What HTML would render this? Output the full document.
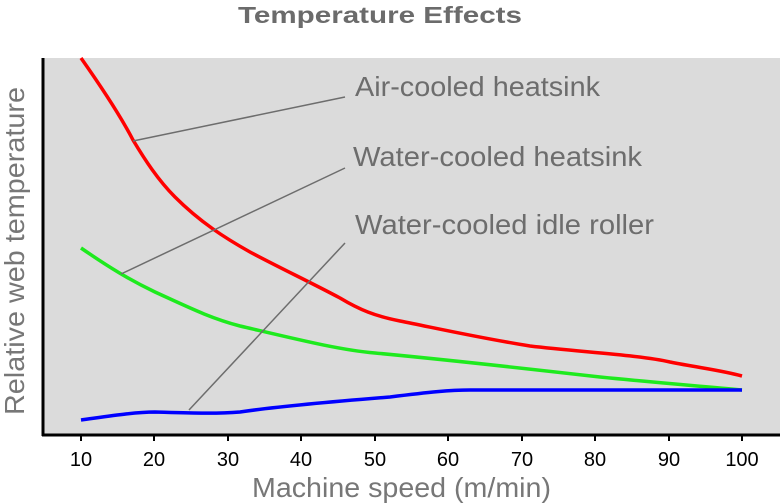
<!DOCTYPE html>
<html><head><style>body{margin:0;background:#fff}svg{display:block}</style></head><body>
<svg width="783" height="503" xmlns="http://www.w3.org/2000/svg" font-family="Liberation Sans, sans-serif">
<rect x="43" y="58" width="737" height="377" fill="#dbdbdb"/>
<text x="238" y="23" textLength="284" lengthAdjust="spacingAndGlyphs" font-size="23" font-weight="bold" fill="#6b6b6b">Temperature Effects</text>
<line x1="43" y1="58" x2="43" y2="436" stroke="#000" stroke-width="3"/>
<line x1="42" y1="435" x2="780" y2="435" stroke="#000" stroke-width="3"/>
<g stroke="#000" stroke-width="2">
<line x1="81" y1="435" x2="81" y2="441"/><line x1="154" y1="435" x2="154" y2="441"/><line x1="228" y1="435" x2="228" y2="441"/><line x1="301" y1="435" x2="301" y2="441"/><line x1="375" y1="435" x2="375" y2="441"/><line x1="448" y1="435" x2="448" y2="441"/><line x1="522" y1="435" x2="522" y2="441"/><line x1="595" y1="435" x2="595" y2="441"/><line x1="669" y1="435" x2="669" y2="441"/><line x1="742" y1="435" x2="742" y2="441"/></g>
<g font-size="20" text-anchor="middle" fill="#000">
<text x="81" y="466">10</text><text x="154" y="466">20</text><text x="228" y="466">30</text><text x="301" y="466">40</text><text x="375" y="466">50</text><text x="448" y="466">60</text><text x="522" y="466">70</text><text x="595" y="466">80</text><text x="669" y="466">90</text><text x="742" y="466">100</text></g>
<text x="252" y="497" textLength="299" lengthAdjust="spacingAndGlyphs" font-size="28" fill="#777">Machine speed (m/min)</text>
<text transform="translate(24,415) rotate(-90)" textLength="328" lengthAdjust="spacingAndGlyphs" font-size="28" fill="#777">Relative web temperature</text>
<g fill="none" stroke-width="3.5" stroke-linejoin="round">
<path stroke="#f00" d="M81,58 C100,85 120,115 133,140 C145,160 158,180 175,197 C200,222 225,238 250,252 C280,268 310,282 340,298 C360,310 375,316 400,321 C440,329 480,338 530,346 C580,352 640,355 670,362 C700,368 720,370 742,376"/>
<path stroke="#1eea1e" d="M81,248 C110,268 130,280 155,292 C190,308 210,318 240,326 C300,340 340,350 375,353 C460,361 530,369 600,377 C660,383 700,386 742,390"/>
<path stroke="#0000ff" d="M81,420 C110,416 135,412 155,412 C190,413 215,414 240,412 C280,406 340,401 390,397 C430,392 450,390 470,390 L742,390"/>
</g>
<g stroke="#6d6d6d" stroke-width="1.5">
<line x1="133" y1="141" x2="345" y2="97"/><line x1="121" y1="274" x2="345" y2="168"/><line x1="189" y1="410" x2="345" y2="243"/></g>
<g font-size="28" fill="#6d6d6d" lengthAdjust="spacingAndGlyphs">
<text x="355" y="96" textLength="245" lengthAdjust="spacingAndGlyphs">Air-cooled heatsink</text>
<text x="353" y="166" textLength="289" lengthAdjust="spacingAndGlyphs">Water-cooled heatsink</text>
<text x="355" y="234" textLength="299" lengthAdjust="spacingAndGlyphs">Water-cooled idle roller</text></g>
</svg>
</body></html>
